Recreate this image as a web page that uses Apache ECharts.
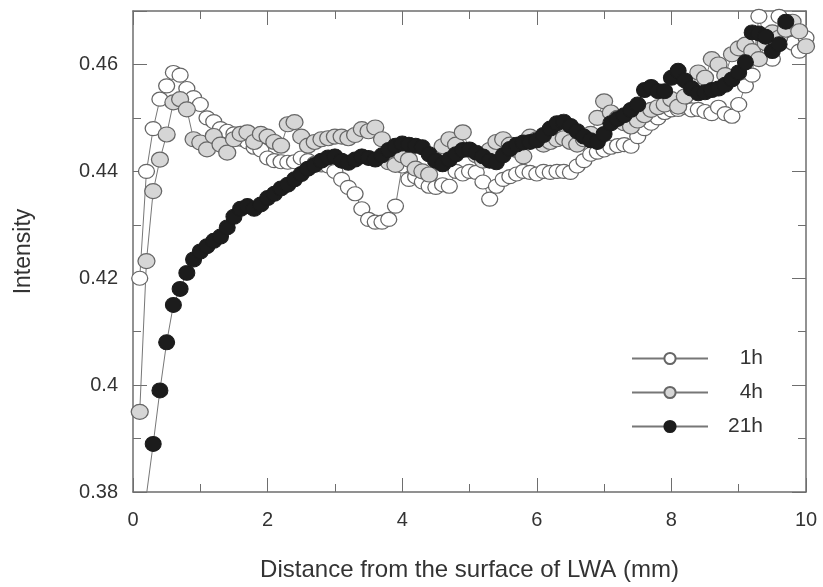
<!DOCTYPE html>
<html>
<head>
<meta charset="utf-8">
<script src="https://cdn.jsdelivr.net/npm/echarts@6/dist/echarts.min.js"></script>
<style>
  html, body { margin: 0; padding: 0; background: #fff; }
  #chart { width: 823px; height: 587px; }
</style>
</head>
<body>
<div id="chart"></div>
<script>
// distance from the surface of LWA (mm)
const distance = [
  0.1, 0.2, 0.3, 0.4, 0.5, 0.6, 0.7, 0.8, 0.9, 1.0,
  1.1, 1.2, 1.3, 1.4, 1.5, 1.6, 1.7, 1.8, 1.9, 2.0,
  2.1, 2.2, 2.3, 2.4, 2.5, 2.6, 2.7, 2.8, 2.9, 3.0,
  3.1, 3.2, 3.3, 3.4, 3.5, 3.6, 3.7, 3.8, 3.9, 4.0,
  4.1, 4.2, 4.3, 4.4, 4.5, 4.6, 4.7, 4.8, 4.9, 5.0,
  5.1, 5.2, 5.3, 5.4, 5.5, 5.6, 5.7, 5.8, 5.9, 6.0,
  6.1, 6.2, 6.3, 6.4, 6.5, 6.6, 6.7, 6.8, 6.9, 7.0,
  7.1, 7.2, 7.3, 7.4, 7.5, 7.6, 7.7, 7.8, 7.9, 8.0,
  8.1, 8.2, 8.3, 8.4, 8.5, 8.6, 8.7, 8.8, 8.9, 9.0,
  9.1, 9.2, 9.3, 9.4, 9.5, 9.6, 9.7, 9.8, 9.9, 10.0
];

const intensity1h = [
  0.4200, 0.4400, 0.4480, 0.4535, 0.4560, 0.4585, 0.4580, 0.4555, 0.4538, 0.4525,
  0.4500, 0.4493, 0.4480, 0.4475, 0.4470, 0.4460, 0.4455, 0.4445, 0.4440, 0.4425,
  0.4420, 0.4418, 0.4417, 0.4418, 0.4425, 0.4420, 0.4415, 0.4412, 0.4410, 0.4400,
  0.4385, 0.4370, 0.4358, 0.4330, 0.4310, 0.4305, 0.4305, 0.4310, 0.4335, 0.4410,
  0.4385, 0.4390, 0.4380, 0.4372, 0.4370, 0.4375, 0.4372, 0.4400, 0.4395, 0.4400,
  0.4398, 0.4380, 0.4348, 0.4372, 0.4385, 0.4390, 0.4395, 0.4400, 0.4398, 0.4395,
  0.4400, 0.4398, 0.4400, 0.4400, 0.4398, 0.4410, 0.4420, 0.4432, 0.4436, 0.4440,
  0.4445, 0.4448, 0.4450, 0.4447, 0.4465, 0.4480, 0.4490, 0.4500, 0.4510, 0.4515,
  0.4516, 0.4520, 0.4515, 0.4516, 0.4512, 0.4508, 0.4520, 0.4508, 0.4503, 0.4525,
  0.4560, 0.4580, 0.4690, 0.4640, 0.4610, 0.4690, 0.4660, 0.4640, 0.4625, 0.4650
];

const intensity4h = [
  0.3950, 0.4232, 0.4363, 0.4422, 0.4469, 0.4529, 0.4535, 0.4516, 0.4460, 0.4454,
  0.4441, 0.4466, 0.4450, 0.4435, 0.4460, 0.4470, 0.4473, 0.4455, 0.4470, 0.4465,
  0.4455, 0.4448, 0.4488, 0.4492, 0.4465, 0.4448, 0.4455, 0.4460, 0.4462, 0.4465,
  0.4465, 0.4462, 0.4468, 0.4479, 0.4475, 0.4482, 0.4460, 0.4417, 0.4412, 0.4430,
  0.4422, 0.4405, 0.4400, 0.4394, 0.4420, 0.4447, 0.4460, 0.4450, 0.4473, 0.4440,
  0.4430, 0.4420, 0.4440, 0.4455, 0.4460, 0.4450, 0.4440, 0.4428, 0.4465, 0.4460,
  0.4450, 0.4455, 0.4460, 0.4462, 0.4455, 0.4450, 0.4460, 0.4470, 0.4500, 0.4531,
  0.4510, 0.4500, 0.4490, 0.4484, 0.4495, 0.4505, 0.4515, 0.4520, 0.4525, 0.4535,
  0.4521, 0.4540, 0.4555, 0.4585, 0.4575, 0.4610, 0.4600, 0.4580, 0.4619, 0.4630,
  0.4637, 0.4625, 0.4610, 0.4640, 0.4660, 0.4650, 0.4665, 0.4680, 0.4662, 0.4634
];

const intensity21h = [
  0.3700, null,   0.3890, 0.3990, 0.4080, 0.4150, 0.4180, 0.4210, 0.4235, 0.4250,
  0.4260, 0.4270, 0.4278, 0.4295, 0.4315, 0.4330, 0.4335, 0.4330, 0.4338, 0.4350,
  0.4358, 0.4368, 0.4375, 0.4385, 0.4395, 0.4405, 0.4412, 0.4420, 0.4426, 0.4428,
  0.4420, 0.4416, 0.4422, 0.4428, 0.4425, 0.4422, 0.4430, 0.4440, 0.4448, 0.4452,
  0.4450, 0.4448, 0.4445, 0.4432, 0.4420, 0.4413, 0.4422, 0.4432, 0.4440, 0.4441,
  0.4435, 0.4428, 0.4420, 0.4417, 0.4430, 0.4442, 0.4450, 0.4454, 0.4455, 0.4458,
  0.4468, 0.4480, 0.4490, 0.4493, 0.4485, 0.4475, 0.4465, 0.4458, 0.4455, 0.4470,
  0.4490, 0.4498, 0.4505, 0.4515, 0.4525, 0.4552, 0.4558, 0.4550, 0.4550, 0.4575,
  0.4588, 0.4570, 0.4555, 0.4546, 0.4548, 0.4552, 0.4555, 0.4562, 0.4572, 0.4585,
  0.4604, 0.4660, 0.4658, 0.4652, 0.4625, 0.4638, 0.4680, null,   null,   null
];

const seriesNames = ['1h', '4h', '21h'];

function pairs(ys) {
  return distance.map((x, i) => [x, ys[i]]);
}

let myChart = echarts.init(document.getElementById('chart'));

const frameColor = '#6e6e6e';
const fontFamily = 'Liberation Sans, Arial, sans-serif';

// shared look of the boxed frame: inward major + minor ticks
const frameLine = { show: true, onZero: false, lineStyle: { color: frameColor, width: 1.5 } };
const majorTick = { show: true, inside: true, length: 14, lineStyle: { color: frameColor } };
const minorTick = { show: true, splitNumber: 2, length: 8, lineStyle: { color: frameColor } };

let option = {
  animation: false,
  backgroundColor: '#fff',
  grid: {
    left: 133,
    right: 17,
    top: 11,
    bottom: 94
  },
  legend: {
    data: seriesNames,
    orient: 'vertical',
    left: 626,
    top: 343,
    itemWidth: 76,
    itemHeight: 14,
    itemGap: 13,
    formatter: '{a|{name}}',
    textStyle: {
      rich: {
        a: {
          width: 50,
          align: 'right',
          fontFamily: fontFamily,
          fontSize: 21,
          color: '#333'
        }
      }
    }
  },
  xAxis: [
    {
      type: 'value',
      min: 0,
      max: 10,
      interval: 2,
      name: 'Distance from the surface of LWA (mm)',
      nameLocation: 'middle',
      nameGap: 66,
      nameTextStyle: { fontFamily: fontFamily, fontSize: 24, color: '#333' },
      axisLine: frameLine,
      axisTick: majorTick,
      minorTick: minorTick,
      axisLabel: { margin: 18, fontFamily: fontFamily, fontSize: 20, color: '#333' },
      splitLine: { show: false }
    },
    {
      type: 'value',
      position: 'top',
      min: 0,
      max: 10,
      interval: 2,
      axisLine: frameLine,
      axisTick: majorTick,
      minorTick: minorTick,
      axisLabel: { show: false },
      splitLine: { show: false }
    }
  ],
  yAxis: [
    {
      type: 'value',
      min: 0.38,
      max: 0.47,
      interval: 0.02,
      name: 'Intensity',
      nameLocation: 'middle',
      nameRotate: 90,
      nameGap: 98,
      nameTextStyle: { fontFamily: fontFamily, fontSize: 23, color: '#333' },
      axisLine: frameLine,
      axisTick: majorTick,
      minorTick: minorTick,
      axisLabel: { margin: 15, showMaxLabel: false, fontFamily: fontFamily, fontSize: 20, color: '#333' },
      splitLine: { show: false }
    },
    {
      type: 'value',
      position: 'right',
      min: 0.38,
      max: 0.47,
      interval: 0.02,
      axisLine: frameLine,
      axisTick: majorTick,
      minorTick: minorTick,
      axisLabel: { show: false },
      splitLine: { show: false }
    }
  ],
  series: [
    {
      name: '1h',
      type: 'line',
      data: pairs(intensity1h),
      symbol: 'circle',
      symbolSize: [16, 14],
      showAllSymbol: true,
      clip: true,
      lineStyle: { color: '#777', width: 1 },
      itemStyle: { color: '#ffffff', borderColor: '#666', borderWidth: 1.2 }
    },
    {
      name: '4h',
      type: 'line',
      data: pairs(intensity4h),
      symbol: 'circle',
      symbolSize: [17, 15],
      showAllSymbol: true,
      clip: true,
      lineStyle: { color: '#777', width: 1 },
      itemStyle: { color: '#d6d6d6', borderColor: '#666', borderWidth: 1.2 }
    },
    {
      name: '21h',
      type: 'line',
      data: pairs(intensity21h),
      connectNulls: true,
      symbol: 'circle',
      symbolSize: [16, 15],
      showAllSymbol: true,
      clip: true,
      lineStyle: { color: '#777', width: 1 },
      itemStyle: { color: '#1c1c1c', borderColor: '#1c1c1c', borderWidth: 1 }
    }
  ]
};

option && myChart.setOption(option);
</script>
</body>
</html>
